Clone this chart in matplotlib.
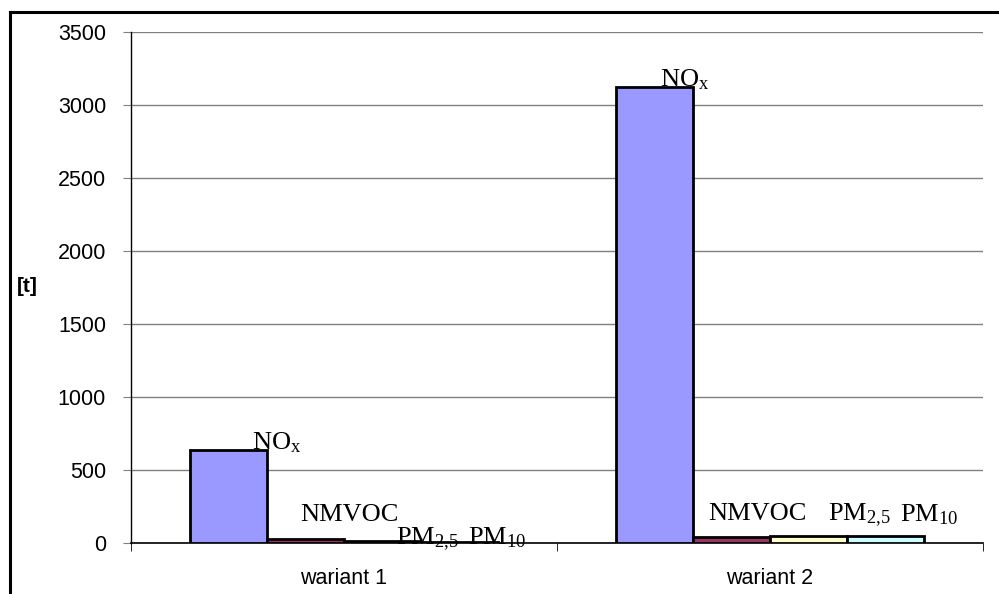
import numpy as np
import matplotlib
matplotlib.use("Agg")
import matplotlib.pyplot as plt
from matplotlib.lines import Line2D

plt.rcParams['font.family'] = ['Liberation Sans', 'DejaVu Sans']
plt.rcParams['mathtext.fontset'] = 'custom'
plt.rcParams['mathtext.rm'] = 'Liberation Serif'
plt.rcParams['mathtext.it'] = 'Liberation Serif:italic'

variants = ['wariant 1', 'wariant 2']
pollutants = [r'NO$_{\mathrm{x}}$', 'NMVOC', r'PM$_{\mathrm{2{,}5}}$', r'PM$_{\mathrm{10}}$']
nox = [640, 3125]
nmvoc = [25, 38]
pm25 = [12, 48]
pm10 = [10, 48]
series = [nox, nmvoc, pm25, pm10]
colors = ['#9999FF', '#993366', '#FFFFCC', '#CCFFFF']

# hand placed labels: (dx from bar left edge, dy from bar top) in pixels
label_offsets = [
    [(62, 0), (44, 0)],
    [(33, 18), (15, 17)],
    [(52, -3), (58, 15)],
    [(47, -3), (53, 15)],
]

W, H = 999, 594
fig = plt.figure(figsize=(W / 100, H / 100), dpi=100)
ax = fig.add_axes([131 / W, 1 - 543 / H, (983 - 131) / W, (543 - 32) / H])

width = 0.1808
x = np.arange(len(variants))
for i, (vals, col) in enumerate(zip(series, colors)):
    pos = x + (i - 1.5) * width
    ax.bar(pos, vals, width, color=col, edgecolor='black', linewidth=2.0, zorder=3)
    for j in range(len(variants)):
        dx, dy = label_offsets[i][j]
        ax.annotate(pollutants[i], xy=(pos[j] - width / 2, vals[j]),
                    xytext=(dx, dy), textcoords='offset pixels',
                    ha='left', va='baseline', fontsize=19, zorder=5,
                    family='Liberation Serif', annotation_clip=False)

ax.set_xlim(-0.5, 1.5)
ax.set_ylim(0, 3500)
ax.set_yticks(np.arange(0, 3501, 500))
ax.set_xticks(x)
ax.set_xticklabels(variants, fontsize=15.5)
ax.set_xticks([-0.5, 0.5, 1.5], minor=True)
ax.tick_params(axis='x', which='major', length=0, pad=18)
ax.tick_params(axis='x', which='minor', length=6, direction='out', color='black')
ax.tick_params(axis='y', length=6, direction='out', color='#808080', labelsize=15.5, pad=12)
ax.yaxis.grid(True, color='#808080', linewidth=1, zorder=0)
ax.set_axisbelow(True)
for s in ['top', 'right']:
    ax.spines[s].set_visible(False)
ax.spines['left'].set_color('black')
ax.spines['bottom'].set_color('black')
ax.spines['left'].set_linewidth(1)
ax.spines['bottom'].set_linewidth(1.2)

fig.text(27 / W, 1 - 287 / H, '[t]', fontsize=15, fontweight='bold', ha='center', va='center')

# outer chart frame (only top and left edges visible)
fig.add_artist(Line2D([10 / W, 10 / W], [0, 1 - 12 / H], color='black', linewidth=2.2,
                      transform=fig.transFigure))
fig.add_artist(Line2D([10 / W, 1], [1 - 12 / H, 1 - 12 / H], color='black', linewidth=2.2,
                      transform=fig.transFigure))

fig.savefig('out.png', dpi=100)
